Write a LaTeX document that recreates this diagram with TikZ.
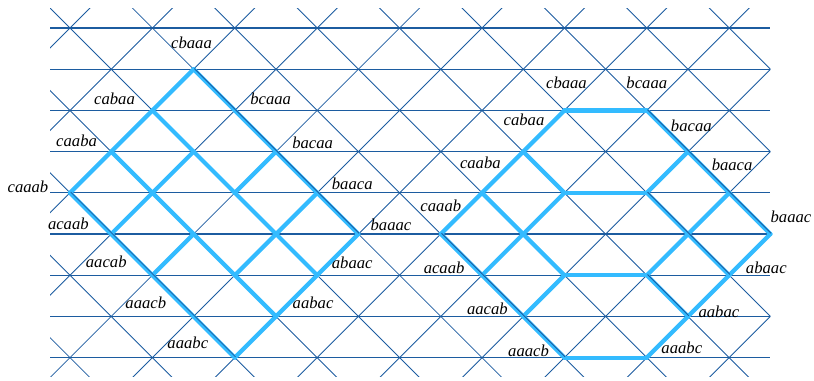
\documentclass[tikz,border=0pt]{standalone}
\usepackage{fontspec}
\setmainfont{Liberation Serif}
\usetikzlibrary{positioning}
\definecolor{gridblue}{RGB}{28,92,160}
\definecolor{pathblue}{RGB}{51,187,255}

\begin{document}
\begin{tikzpicture}[
    mesh/.style={gridblue, line width=0.6pt},
    rung/.style={gridblue, line width=0.75pt},
    hl/.style={pathblue, line width=2.9pt, line cap=round},
    rim/.style={gridblue, line width=0.6pt, transform canvas={shift={(0.5pt,0.5pt)}}},
    word/.style={font=\fontsize{11.5}{13}\selectfont\itshape, inner sep=0pt}
]
    \useasboundingbox (-1.699,0.680) rectangle (18.058,-8.544);

    % background lattice
    \begin{scope}
        \clip (-0.485,0.485) rectangle (17.0,-8.47);
        \foreach \j in {0,...,8}
            \draw[rung] (-0.5,-\j) -- (17,-\j);
        \foreach \k in {-8,-6,...,16}
            \draw[mesh] (\k-0.5,0.5) -- (\k+8.5,-8.5);
        \foreach \m in {0,2,...,24}
            \draw[mesh] (\m+0.5,0.5) -- (\m-8.5,-8.5);
    \end{scope}

    % words, left and right drawing
    \foreach \w/\x/\y in {cbaaa/3/1, bcaaa/4/2, bacaa/5/3, baaca/6/4, baaac/7/5,
        cabaa/2/2, acbaa/3/3, abcaa/4/4, abaca/5/5, abaac/6/6,
        caaba/1/3, acaba/2/4, aacba/3/5, aabca/4/6, aabac/5/7,
        caaab/0/4, acaab/1/5, aacab/2/6, aaacb/3/7, aaabc/4/8}
        \coordinate (L\w) at (\x,-\y);
    \foreach \w/\x/\y in {cbaaa/12/2, bcaaa/14/2, cabaa/11/3, bacaa/15/3,
        caaba/10/4, acbaa/12/4, abcaa/14/4, baaca/16/4,
        caaab/9/5, acaba/11/5, abaca/15/5, baaac/17/5,
        acaab/10/6, aacba/12/6, aabca/14/6, abaac/16/6,
        aacab/11/7, aabac/15/7, aaacb/12/8, aaabc/14/8}
        \coordinate (R\w) at (\x,-\y);

    % covering relations
    \foreach \p in {L,R}
        \foreach \u/\v in {cbaaa/bcaaa, bcaaa/bacaa, bacaa/baaca, baaca/baaac,
            cabaa/acbaa, acbaa/abcaa, abcaa/abaca, abaca/abaac,
            caaba/acaba, acaba/aacba, aacba/aabca, aabca/aabac,
            caaab/acaab, acaab/aacab, aacab/aaacb, aaacb/aaabc,
            cbaaa/cabaa, cabaa/caaba, caaba/caaab,
            acbaa/acaba, acaba/acaab, bacaa/abcaa, aacba/aacab,
            baaca/abaca, abaca/aabca,
            baaac/abaac, abaac/aabac, aabac/aaabc}
            \draw[hl] (\p\u) -- (\p\v);

    \foreach \u/\v in {cbaaa/bcaaa, bcaaa/bacaa, bacaa/baaca, baaca/baaac,
        caaab/acaab, acaab/aacab, aacab/aaacb, aaacb/aaabc}
        \draw[rim] (L\u) -- (L\v);
    \foreach \u/\v in {bcaaa/bacaa, bacaa/baaca, baaca/baaac,
        abcaa/abaca, abaca/abaac, aabca/aabac,
        caaab/acaab, acaab/aacab, aacab/aaacb}
        \draw[rim] (R\u) -- (R\v);

    % labels
    \foreach \w/\dx/\dy in {cbaaa/-0.05/0.63, cabaa/-0.92/0.27, caaba/-0.84/0.26,
        caaab/-1.02/0.15, bcaaa/0.87/0.29, bacaa/0.89/0.22, baaca/0.85/0.22,
        baaac/0.79/0.22, acaab/-1.04/0.24, aacab/-1.12/0.32, aaacb/-1.16/0.32,
        aaabc/-1.14/0.35, abaac/0.85/0.29, aabac/0.90/0.32}
        \node[word] (l\w) at ([shift={(\dx,\dy)}]L\w) {\w};
    \foreach \w/\dx/\dy in {cbaaa/0.05/0.68, bcaaa/0/0.68, cabaa/0.02/0.77,
        bacaa/0.08/0.63, caaba/-0.04/0.73, baaca/0.07/0.68, caaab/0/0.68,
        baaac/0.5/0.41, acaab/-0.92/0.17, abaac/0.90/0.17, aacab/-0.87/0.19,
        aabac/0.75/0.12, aaacb/-0.87/0.17, aaabc/0.85/0.23}
        \node[word] (r\w) at ([shift={(\dx,\dy)}]R\w) {\w};
\end{tikzpicture}
\end{document}
